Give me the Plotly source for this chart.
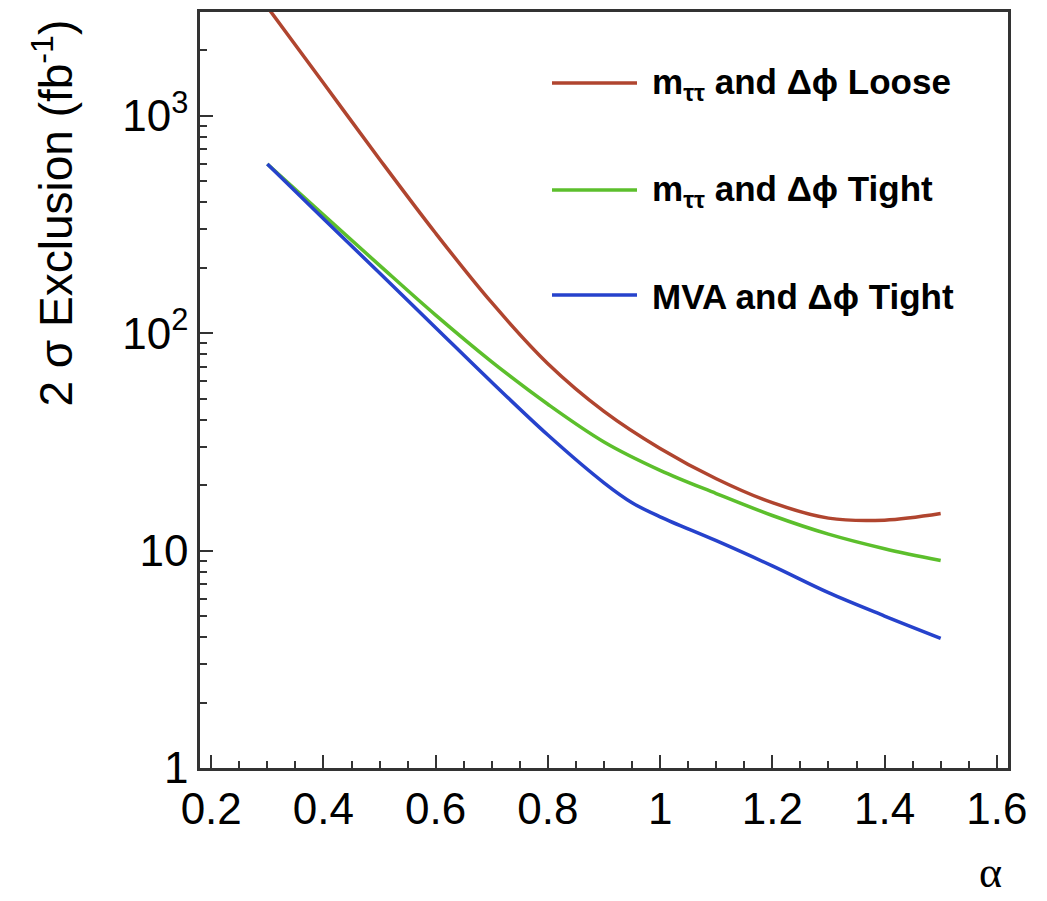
import plotly.graph_objects as go

# ---- data ----
alpha = [0.3, 0.4, 0.5, 0.6, 0.7, 0.8, 0.9, 1.0, 1.1, 1.2, 1.3, 1.4, 1.5]
loose_mtt = [3162, 1413, 631, 288, 138, 72.4, 43.7, 29.5, 21.4, 16.6, 14.1, 13.8, 14.8]
tight_mtt = [600, 350, 205, 121, 73.8, 47.1, 31.6, 23.4, 18.3, 14.5, 11.9, 10.2, 9.0]
alpha_mva = [0.3, 0.4, 0.5, 0.6, 0.7, 0.8, 0.9, 0.95, 1.0, 1.1, 1.2, 1.3, 1.4, 1.5]
tight_mva = [600, 336, 189, 106, 59.5, 34, 20.5, 16.6, 14.3, 11.1, 8.5, 6.4, 5.0, 3.95]

names = ["m<sub>ττ</sub> and Δϕ Loose", "m<sub>ττ</sub> and Δϕ Tight", "MVA and Δϕ Tight"]
colors = ["#b0452f", "#5cbf2c", "#2642cc"]

x_tickvals = [0.2, 0.4, 0.6, 0.8, 1.0, 1.2, 1.4, 1.6]
x_ticktext = ["0.2", "0.4", "0.6", "0.8", "1", "1.2", "1.4", "1.6"]
y_tickvals = [1, 10, 100, 1000]
y_ticktext = ["1", "10", "10<sup>2</sup>", "10<sup>3</sup>"]
y_minor = [m * 10 ** k for k in range(0, 4) for m in range(2, 10) if m * 10 ** k < 3000]

fig = go.Figure()
series = [(alpha, loose_mtt), (alpha, tight_mtt), (alpha_mva, tight_mva)]
for (xs, ys), name, col in zip(series, names, colors):
    fig.add_trace(go.Scatter(x=xs, y=ys, mode="lines", name=name,
                             line=dict(color=col, width=3.5, shape="spline", smoothing=1.0),
                             showlegend=False))

axis_font = dict(family="Liberation Sans, Arial, sans-serif", size=44, color="black")

fig.update_xaxes(range=[0.18, 1.62], tickmode="array", tickvals=x_tickvals, ticktext=x_ticktext,
                 ticks="inside", ticklen=13, tickwidth=2, tickcolor="#333",
                 minor=dict(ticks="inside", ticklen=7, tickwidth=2, tickcolor="#333",
                            tickmode="linear", tick0=0.2, dtick=0.05),
                 showline=True, mirror=True, linewidth=2.5, linecolor="#333",
                 showgrid=False, zeroline=False, tickfont=axis_font)
fig.update_yaxes(type="log", range=[0, 3.477], tickmode="array", tickvals=y_tickvals, ticktext=y_ticktext,
                 ticks="inside", ticklen=13, tickwidth=2, tickcolor="#333",
                 minor=dict(ticks="inside", ticklen=7, tickwidth=2, tickcolor="#333",
                            tickmode="array", tickvals=y_minor),
                 showline=True, mirror=True, linewidth=2.5, linecolor="#333",
                 showgrid=False, zeroline=False, tickfont=axis_font)

# ---- custom legend (long line samples as in the reference) ----
L, R, T, B = 200, 39, 12, 133
W, H = 1047 - L - R, 901 - T - B
def px(xp):
    return (xp - L) / W
def py(yp):
    return (901 - B - yp) / H

legend_y = [83, 190, 295]
for name, col, yy in zip(names, colors, legend_y):
    fig.add_shape(type="line", xref="paper", yref="paper", x0=px(552), x1=px(637), y0=py(yy), y1=py(yy),
                  line=dict(color=col, width=3.5))
    fig.add_annotation(xref="paper", yref="paper", x=px(650), y=py(yy + 1), text="<b>" + name + "</b>",
                       showarrow=False, xanchor="left", yanchor="middle",
                       font=dict(family="Liberation Sans, Arial, sans-serif", size=35, color="black"))

# axis titles
fig.add_annotation(xref="paper", yref="paper", x=px(53), y=py(18), text="2 σ Exclusion (fb<sup>-1</sup>)",
                   textangle=-90, showarrow=False, xanchor="center", yanchor="top",
                   font=dict(family="Liberation Sans, Arial, sans-serif", size=46, color="black"))
fig.add_annotation(xref="paper", yref="paper", x=px(990), y=py(899), text="α",
                   showarrow=False, xanchor="center", yanchor="bottom",
                   font=dict(family="Liberation Serif, Times New Roman, serif", size=44, color="black"))

fig.update_layout(width=1047, height=901, margin=dict(l=L, r=R, t=T, b=B, autoexpand=False),
                  paper_bgcolor="white", plot_bgcolor="white")

fig.write_html("out.html")
